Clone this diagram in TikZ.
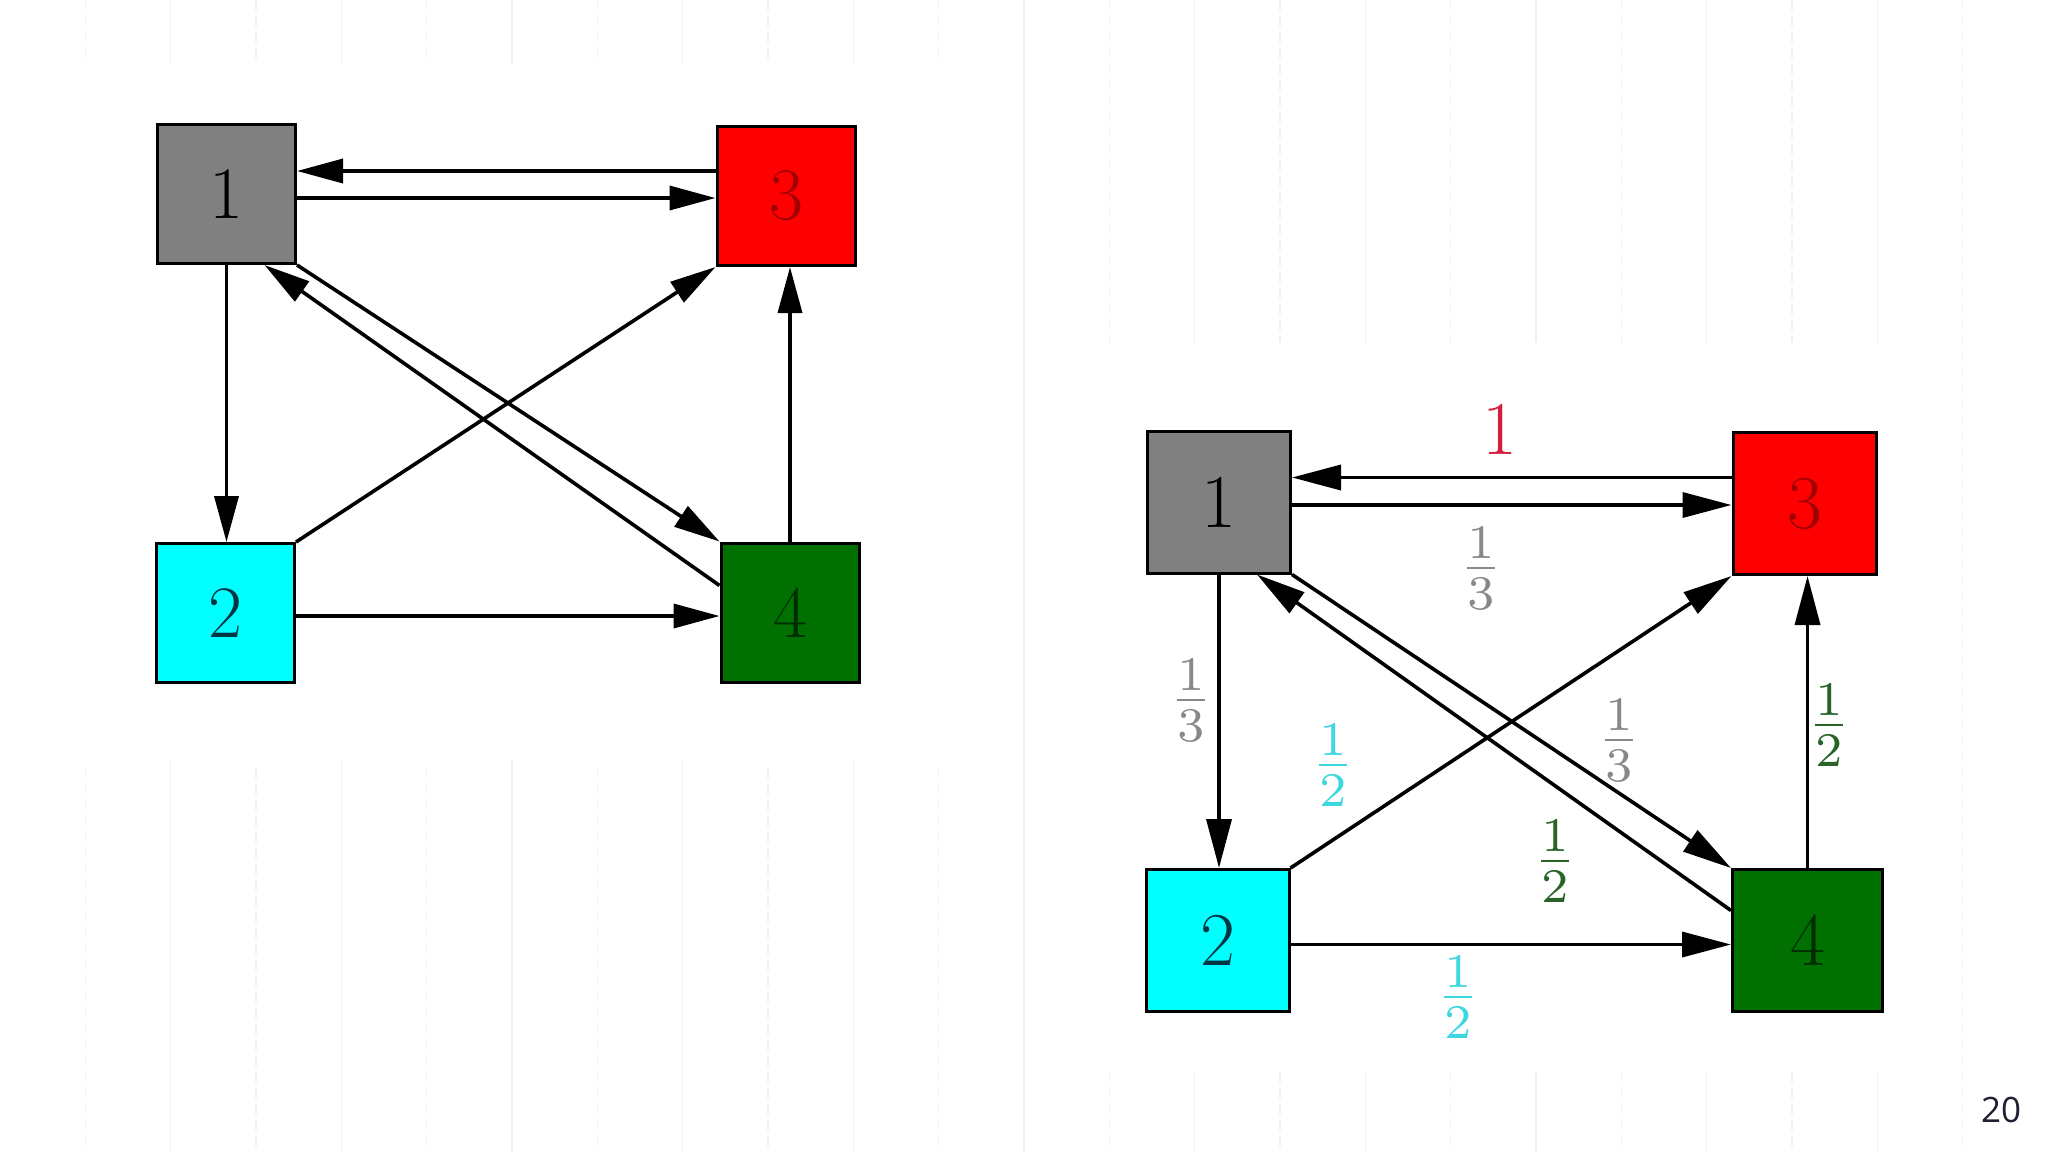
\documentclass[tikz,border=0pt]{standalone}
\usepackage{fontspec}
\newfontfamily\pagefont{Open Sans}
\usetikzlibrary{arrows.meta}
\definecolor{boxgray}{RGB}{128,128,128}
\definecolor{boxred}{RGB}{255,0,0}
\definecolor{boxcyan}{RGB}{0,255,255}
\definecolor{boxgreen}{RGB}{0,112,0}
\definecolor{txtred}{RGB}{160,0,0}
\definecolor{txtcyan}{RGB}{0,55,70}
\definecolor{txtgreen}{RGB}{0,45,0}
\definecolor{labred}{RGB}{210,30,60}
\definecolor{labgray}{RGB}{136,136,136}
\definecolor{labcyan}{RGB}{60,215,225}
\definecolor{labgreen}{RGB}{40,100,40}
\definecolor{pagecol}{RGB}{30,32,52}
\definecolor{gridcol}{RGB}{240,240,242}
\begin{document}
\begin{tikzpicture}[x=0.5pt,y=-0.5pt,
  box/.style={draw=black, line width=1.5pt, inner sep=0pt,
    minimum width=69pt, minimum height=69.5pt,
    font=\fontsize{37}{40}\selectfont},
  bigbox/.style={box, minimum width=71.5pt, minimum height=71pt,
    font=\fontsize{38}{42}\selectfont},
  edge/.style={line width=1.8pt, draw=black,
    -{Triangle[length=23pt,width=12pt]}},
  bigedge/.style={edge, -{Triangle[length=24.5pt,width=12.5pt]}},
  lab/.style={inner sep=0pt, font=\normalsize, scale=3.45, transform shape},
  gridsolid/.style={draw=gridcol, line width=0.6pt},
  griddash/.style={draw=gridcol, line width=0.6pt, dash pattern=on 5pt off 3pt}
]
\fill[white] (0,0) rectangle (2048,1152);
\useasboundingbox (0,0) rectangle (2048,1152);

% faint slide background lines
\foreach \k in {1,3,...,23} {\draw[griddash] (85.333*\k,0) -- (85.333*\k,1152);}
\foreach \k in {2,4,...,22} {\draw[gridsolid] (85.333*\k,0) -- (85.333*\k,1152);}
\fill[white] (40,65) rectangle (980,761);
\fill[white] (1060,342) rectangle (1920,1073);

% ---------------- left graph ----------------
\node[box, fill=boxgray] (n1) at (226.5,194) {1};
\node[box, fill=boxred, text=txtred] (n3) at (786,196) {3};
\node[box, fill=boxcyan, text=txtcyan] (n2) at (225.5,613) {2};
\node[box, fill=boxgreen, text=txtgreen] (n4) at (790,612.5) {4};

\draw[edge] ([yshift=12.5pt]n3.west) -- ([yshift=12.5pt]n3.west -| n1.east);
\draw[edge] ([yshift=-2pt]n1.east) -- ([yshift=-2pt]n1.east -| n3.west);
\draw[edge] (n1.south) -- (n1.south |- n2.north);
\draw[edge] ([yshift=-1.5pt]n2.east) -- ([yshift=-1.5pt]n2.east -| n4.west);
\draw[edge] (n4.north) -- (n4.north |- n3.south);
\draw[edge] (n2.north east) -- (n3.south west);
\draw[edge] (n1.south east) -- (n4.north west);
\draw[edge] ([yshift=13.5pt]n4.west) -- ([xshift=19pt]n1.south);

% ---------------- right graph ----------------
\node[bigbox, fill=boxgray] (m1) at (1219,502) {1};
\node[bigbox, fill=boxred, text=txtred] (m3) at (1804.5,503.5) {3};
\node[bigbox, fill=boxcyan, text=txtcyan] (m2) at (1217.5,940.5) {2};
\node[bigbox, fill=boxgreen, text=txtgreen, minimum width=75pt] (m4) at (1807.5,940.5) {4};

\draw[bigedge] ([yshift=13pt]m3.west) -- ([yshift=13pt]m3.west -| m1.east);
\draw[bigedge] ([yshift=-1.5pt]m1.east) -- ([yshift=-1.5pt]m1.east -| m3.west);
\draw[bigedge] (m1.south) -- (m1.south |- m2.north);
\draw[bigedge] ([yshift=-2pt]m2.east) -- ([yshift=-2pt]m2.east -| m4.west);
\draw[bigedge] (m4.north) -- (m4.north |- m3.south);
\draw[bigedge] (m2.north east) -- (m3.south west);
\draw[bigedge] (m1.south east) -- (m4.north west);
\draw[bigedge] ([yshift=15pt]m4.west) -- ([xshift=19pt]m1.south);

\node[inner sep=0pt, font=\fontsize{38}{42}\selectfont, text=labred] (l31) at (1500,429) {1};
\node[lab, text=labgray] (l13) at (1481,568) {$\frac{1}{3}$};
\node[lab, text=labgray] (l12) at (1191,700) {$\frac{1}{3}$};
\node[lab, text=labcyan] (l23) at (1333,765) {$\frac{1}{2}$};
\node[lab, text=labgray] (l14) at (1619,740) {$\frac{1}{3}$};
\node[lab, text=labgreen] (l41) at (1555,861) {$\frac{1}{2}$};
\node[lab, text=labgreen] (l43) at (1829,725) {$\frac{1}{2}$};
\node[lab, text=labcyan] (l24) at (1458,997) {$\frac{1}{2}$};

% page number
\node[inner sep=0pt, font=\pagefont\fontsize{17.5}{20}\selectfont, text=pagecol] (page) at (2001,1110) {20};
\end{tikzpicture}
\end{document}
